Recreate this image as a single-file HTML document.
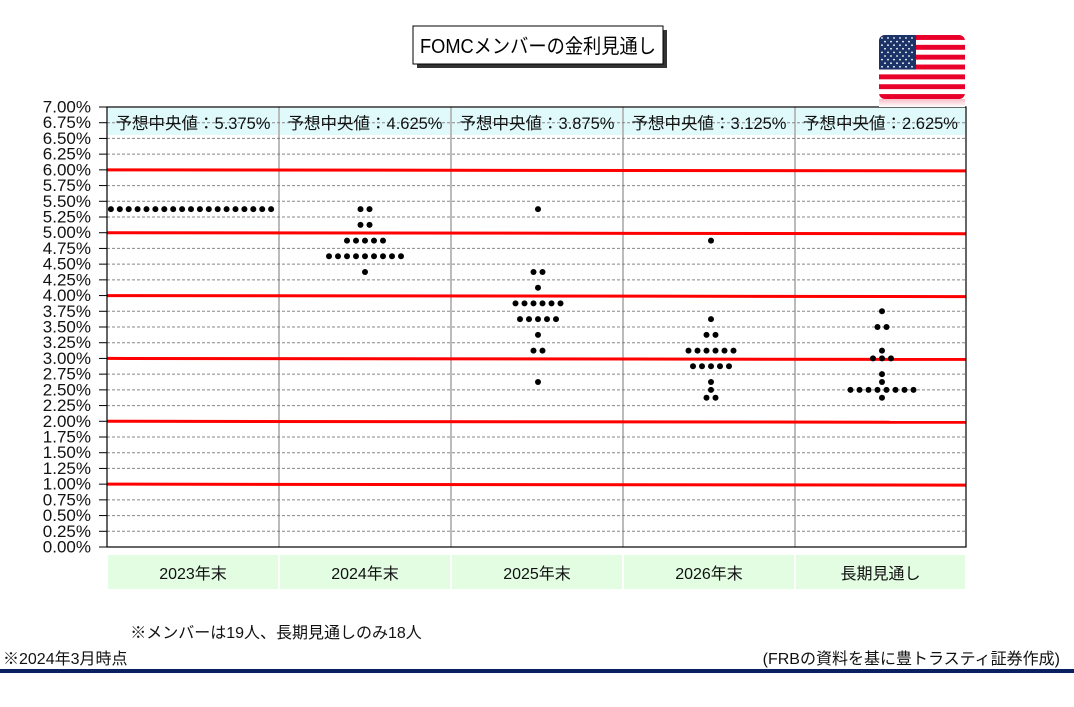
<!DOCTYPE html>
<html><head><meta charset="utf-8"><style>
body{margin:0;width:1074px;height:707px;background:#fff;overflow:hidden;font-family:"Liberation Sans","Noto Sans CJK JP",sans-serif;}
svg{position:absolute;left:0;top:0}
</style></head><body>
<svg id="s" width="1074" height="707" xmlns="http://www.w3.org/2000/svg" font-family="Liberation Sans, Noto Sans CJK JP, sans-serif">
<defs><clipPath id="fc"><rect x="879" y="35" width="86" height="64" rx="6"/></clipPath>
<linearGradient id="rg" x1="0" y1="0" x2="0" y2="1"><stop offset="0" stop-color="#fff" stop-opacity="0.3"/><stop offset="1" stop-color="#fff" stop-opacity="1"/></linearGradient></defs>
<rect x="417" y="30" width="250" height="38" fill="#333"/>
<rect x="413" y="26" width="250" height="38" fill="#fff" stroke="#000" stroke-width="1"/>
<text x="420" y="53" font-size="20" textLength="236" lengthAdjust="spacingAndGlyphs" fill="#000">FOMCメンバーの金利見通し</text>
<g clip-path="url(#fc)" id="flag"></g>
<g id="g"></g>
</svg>
<script>
const s=document.getElementById('g');let h='';
const L=107,R=966,T=107,B=547;const Y=v=>B-v/7*440;
const cols=[107,279,451,623,795,966];
const med=['5.375','4.625','3.875','3.125','2.625'];
const cat=['2023年末','2024年末','2025年末','2026年末','長期見通し'];
for(let i=0;i<5;i++){h+=`<rect x="${cols[i]+1}" y="108" width="${cols[i+1]-cols[i]-2}" height="27" fill="#e0fafc"/>`;
h+=`<rect x="${cols[i]+1}" y="555" width="${cols[i+1]-cols[i]-2}" height="34" fill="#e2fde2"/>`;
h+=`<text x="${(cols[i]+cols[i+1])/2}" y="579" font-size="16" text-anchor="middle" fill="#111">${cat[i]}</text>`;}
for(let k=1;k<28;k++){const v=k*0.25;const y=Y(v);if(k%4==0)continue;h+=`<line x1="${L}" x2="${R}" y1="${y}" y2="${y}" stroke="#888" stroke-width="1" stroke-dasharray="3,2"/>`;}
for(let i=0;i<5;i++)h+=`<text x="${(cols[i]+cols[i+1])/2}" y="129" font-size="16.5" text-anchor="middle" fill="#111">予想中央値：${med[i]}%</text>`;
for(let i=1;i<5;i++)h+=`<line x1="${cols[i]}" x2="${cols[i]}" y1="${T}" y2="${B}" stroke="#777" stroke-width="1"/>`;
for(let k=1;k<=6;k++){const y=Y(k);h+=`<line x1="${L}" x2="${R}" y1="${y}" y2="${y+1}" stroke="#f00" stroke-width="3"/>`;}
h+=`<rect x="${L}" y="${T}" width="${R-L}" height="${B-T}" fill="none" stroke="#000" stroke-width="1.2"/>`;
for(let k=0;k<=28;k++){const v=k*0.25,y=Y(v);h+=`<line x1="99" x2="${L}" y1="${y}" y2="${y}" stroke="#000"/>`;
h+=`<text x="91" y="${y+5.5}" font-size="17" text-anchor="end" fill="#111">${v.toFixed(2)}%</text>`;}
const data=[[191,8.9,[[5.375,19]]],
[365,9,[[5.375,2],[5.125,2],[4.875,5],[4.625,9],[4.375,1]]],
[538,9,[[5.375,1],[4.375,2],[4.125,1],[3.875,6],[3.625,5],[3.375,1],[3.125,2],[2.625,1]]],
[711,9,[[4.875,1],[3.625,1],[3.375,2],[3.125,6],[2.875,5],[2.625,1],[2.5,1],[2.375,2]]],
[882,9,[[3.75,1],[3.5,2],[3.125,1],[3.0,3],[2.75,1],[2.625,1],[2.5,8],[2.375,1]]]];
for(const [cx,sp,rows] of data)for(const [v,n] of rows){for(let j=0;j<n;j++){const x=cx+(j-(n-1)/2)*sp;h+=`<circle cx="${x}" cy="${Y(v)}" r="3" fill="#000"/>`;}}
h+=`<text x="276" y="638" font-size="16" text-anchor="middle" fill="#111">※メンバーは19人、長期見通しのみ18人</text>`;
h+=`<text x="3" y="664" font-size="16" fill="#111">※2024年3月時点</text>`;
h+=`<text x="1060" y="664" font-size="16" text-anchor="end" fill="#111">(FRBの資料を基に豊トラスティ証券作成)</text>`;
h+=`<rect x="0" y="669" width="1074" height="4" fill="#0a2160"/>`;
s.innerHTML=h;
let f='<rect x="879" y="35" width="86" height="64" fill="#fff"/>';
const sh=64/13;for(let k=0;k<13;k+=2)f+=`<rect x="879" y="${35+k*sh}" width="86" height="${sh}" fill="#e8002a"/>`;
f+=`<rect x="879" y="35" width="37" height="${sh*7}" fill="#1c3368"/>`;
for(let r=0;r<9;r++)for(let c=0;c<(r%2?5:6);c++)f+=`<circle cx="${882+c*6+(r%2?3:0)}" cy="${38+r*3.6}" r="0.9" fill="#fff"/>`;
document.getElementById('flag').innerHTML=f;
document.getElementById('s').insertAdjacentHTML('beforeend','<rect x="879" y="99" width="86" height="8" fill="#f7a0ae"/><rect x="879" y="99" width="86" height="8" fill="url(#rg)"/>');
</script>
</body></html>
